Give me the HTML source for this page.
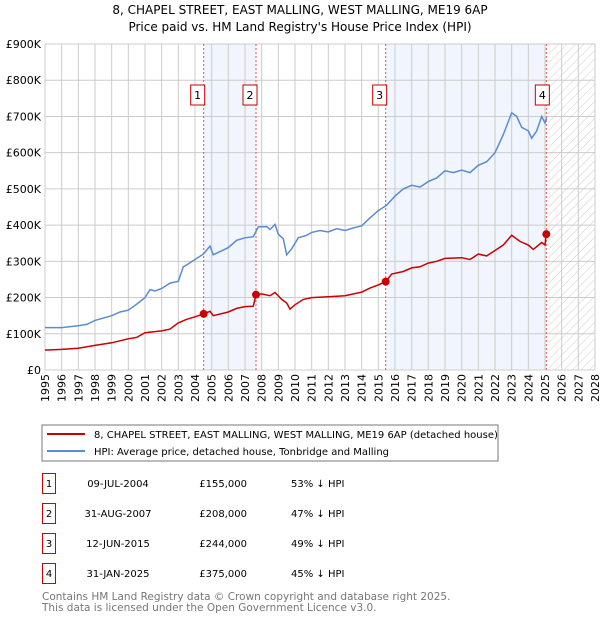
<!DOCTYPE html>
<html><head><meta charset="utf-8"><style>
body{margin:0;background:#fff;width:600px;height:620px;overflow:hidden;font-family:"DejaVu Sans","Liberation Sans",sans-serif}
svg text{font-family:"DejaVu Sans","Liberation Sans",sans-serif}
</style></head><body>
<svg id="c" width="600" height="620" xmlns="http://www.w3.org/2000/svg">
<defs><pattern id="hatch" width="6" height="6" patternUnits="userSpaceOnUse" patternTransform="rotate(45)"><line x1="0" y1="0" x2="0" y2="6" stroke="#ccc" stroke-width="1"/></pattern></defs>
<text x="300" y="14" text-anchor="middle" font-size="12">8, CHAPEL STREET, EAST MALLING, WEST MALLING, ME19 6AP</text>
<text x="300" y="31" text-anchor="middle" font-size="12">Price paid vs. HM Land Registry's House Price Index (HPI)</text>
<g id="plot"></g>
<rect x="42" y="425" width="456" height="36" fill="#fff" stroke="#777"/>
<line x1="47" y1="434" x2="85" y2="434" stroke="#cc0000" stroke-width="2"/>
<text x="94" y="438" font-size="10">8, CHAPEL STREET, EAST MALLING, WEST MALLING, ME19 6AP (detached house)</text>
<line x1="47" y1="451" x2="85" y2="451" stroke="#5b8ccf" stroke-width="2"/>
<text x="94" y="455" font-size="10">HPI: Average price, detached house, Tonbridge and Malling</text>
<g id="table"></g>
<text x="42" y="600" font-size="10.5" fill="#777">Contains HM Land Registry data © Crown copyright and database right 2025.</text>
<text x="42" y="611" font-size="10.5" fill="#777">This data is licensed under the Open Government Licence v3.0.</text>
</svg>
<script>
const hpiT=[1995,1996,1997,1997.5,1998,1999,1999.5,2000,2000.5,2001,2001.3,2001.6,2002,2002.5,2003,2003.3,2003.6,2004,2004.5,2004.9,2005.1,2006,2006.5,2007,2007.5,2007.8,2008.3,2008.5,2008.8,2009,2009.3,2009.5,2009.8,2010.2,2010.7,2011,2011.5,2012,2012.5,2013,2013.5,2014,2014.5,2015,2015.5,2016,2016.5,2017,2017.5,2018,2018.5,2019,2019.5,2020,2020.5,2021,2021.5,2022,2022.5,2023,2023.3,2023.6,2024,2024.2,2024.5,2024.8,2025.0,2025.1];
const hpiV=[117,117,122,126,137,150,160,165,182,200,222,218,225,240,245,285,293,305,320,342,318,338,358,365,368,395,396,388,402,375,362,318,335,365,372,380,385,381,390,385,392,398,420,440,455,480,500,510,505,520,530,550,545,552,545,565,575,600,650,710,700,670,660,640,660,700,682,695];
const redT=[1995,1996,1997,1998,1999,2000,2000.5,2001,2002,2002.5,2003,2003.5,2004,2004.52,2004.9,2005.1,2006,2006.5,2007,2007.5,2007.66,2008,2008.5,2008.8,2009.2,2009.5,2009.7,2010,2010.5,2011,2012,2013,2014,2014.5,2015,2015.44,2015.8,2016.5,2017,2017.5,2018,2018.5,2019,2020,2020.5,2021,2021.5,2022,2022.5,2023,2023.5,2024,2024.3,2024.8,2025.0,2025.08];
const redV=[55,57,60,68,75,86,90,103,108,113,130,140,147,155,162,150,160,170,175,176,208,210,205,214,195,185,168,180,195,200,202,205,215,226,235,244,265,272,282,285,295,300,308,310,305,320,315,330,345,372,355,345,333,352,345,375];
const saleT=[2004.52,2007.66,2015.44,2025.08];
const saleV=[155,208,244,375];
const saleLabels=["1","2","3","4"];
const saleDates=["09-JUL-2004","31-AUG-2007","12-JUN-2015","31-JAN-2025"];
const salePrices=["£155,000","£208,000","£244,000","£375,000"];
const salePct=["53% ↓ HPI","47% ↓ HPI","49% ↓ HPI","45% ↓ HPI"];
const yTicks=[0,100,200,300,400,500,600,700,800,900];
const yLabels=["£0","£100K","£200K","£300K","£400K","£500K","£600K","£700K","£800K","£900K"];
const xYears=[];for(let y=1995;y<=2028;y++)xYears.push(y);

const NS="http://www.w3.org/2000/svg";
const X0=45,X1=595,Y0=370,Y1=44;
const xs=t=>X0+(t-1995)/(2028-1995)*(X1-X0);
const ys=v=>Y0-v/900*(Y0-Y1);
const plot=document.getElementById('plot');
function mk(tag,attrs,parent){const e=document.createElementNS(NS,tag);for(const k in attrs)e.setAttribute(k,attrs[k]);(parent||plot).appendChild(e);return e;}

let bg=mk('rect',{x:X0,y:Y1,width:X1-X0,height:Y0-Y1,fill:'#fff'});


let s1=mk('rect',{x:xs(saleT[0]),y:Y1,width:xs(saleT[1])-xs(saleT[0]),height:Y0-Y1,fill:'#eef3fc',opacity:0.8});


let s2=mk('rect',{x:xs(saleT[2]),y:Y1,width:xs(saleT[3])-xs(saleT[2]),height:Y0-Y1,fill:'#eef3fc',opacity:0.8});


let ht=mk('rect',{x:xs(2025.2),y:Y1,width:X1-xs(2025.2),height:Y0-Y1,fill:'url(#hatch)'});



yTicks.forEach((v,i)=>{
 let l=mk('line',{x1:X0,x2:X1,y1:ys(v),y2:ys(v),stroke:'#ccc','stroke-width':1});
 
 
 let t=mk('text',{x:X0-4,y:ys(v)+4,'text-anchor':'end','font-size':11});
 t.textContent=yLabels[i];
 
 
});
xYears.forEach(y=>{
 let l=mk('line',{x1:xs(y),x2:xs(y),y1:Y1,y2:Y0,stroke:'#ccc','stroke-width':1});
 
 
 let t=mk('text',{x:0,y:0,'font-size':11,'text-anchor':'end',transform:`translate(${xs(y)+4},${Y0+4}) rotate(-90)`});
 t.textContent=y;
 
 
});
let fr=mk('rect',{x:X0,y:Y1,width:X1-X0,height:Y0-Y1,fill:'none',stroke:'#ccc'});



saleT.forEach((t,i)=>{
 let l=mk('line',{x1:xs(t),x2:xs(t),y1:Y1,y2:Y0,stroke:'#e05555','stroke-width':1,'stroke-dasharray':'2,2'});
 
 
});

const path=(T,V)=>T.map((t,i)=>(i?'L':'M')+xs(t).toFixed(1)+','+ys(V[i]).toFixed(1)).join('');
let hp=mk('path',{d:path(hpiT,hpiV),fill:'none',stroke:'#5b8ccf','stroke-width':1.5});


let rp=mk('path',{d:path(redT,redV),fill:'none',stroke:'#cc0000','stroke-width':1.5});



saleT.forEach((t,i)=>{
 let c=mk('circle',{cx:xs(t),cy:ys(saleV[i]),r:4,fill:'#cc0000'});
 
 
 const bx=xs(t)-7-(i===3?4:6), by=85;
 let r=mk('rect',{x:bx,y:by,width:14,height:20,fill:'#fff',stroke:'#cc0000'});
 
 
 let tx=mk('text',{x:bx+7,y:by+14,'text-anchor':'middle','font-size':11});
 tx.textContent=saleLabels[i];
 
 
});

const tb=document.getElementById('table');
saleLabels.forEach((s,i)=>{
 const cy=483+i*30;
 let r=mk('rect',{x:42.5,y:cy-9.5,width:13,height:20,fill:'#fff',stroke:'#cc0000'},tb);
 
 
 const cols=[[49,s,'middle'],[118,saleDates[i],'middle'],[247,salePrices[i],'end'],[291,salePct[i],'start']];
 cols.forEach(c=>{
  let t=mk('text',{x:c[0],y:cy+4,'text-anchor':c[2],'font-size':10},tb);
  t.textContent=c[1];
  
  
 });
});
</script>
</body></html>
